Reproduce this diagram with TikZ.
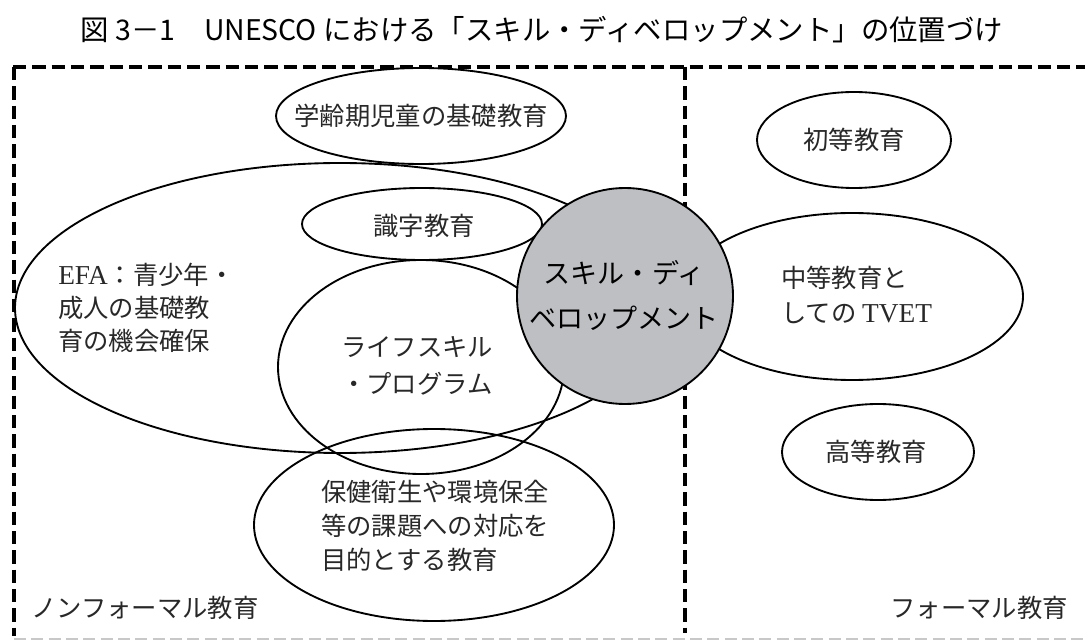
\documentclass[tikz,border=0pt]{standalone}
\usepackage{fontspec}
\newfontfamily\jp{Noto Sans CJK JP}
\newfontfamily\lat{Liberation Serif}
\definecolor{skfill}{RGB}{190,191,195}
\definecolor{botgray}{RGB}{200,200,200}
\definecolor{txt}{RGB}{40,40,40}
\begin{document}
\begin{tikzpicture}[x=0.75pt,y=-0.75pt,
  bord/.style={line width=2.7pt, dash pattern=on 10pt off 4.5pt},
  botbord/.style={line width=1.6pt, botgray, dash pattern=on 9pt off 4pt},
  ell/.style={line width=1.4pt},
  lbl/.style={inner sep=0pt, text=txt, font={\jp\fontsize{19pt}{25pt}\selectfont}},
  lblc/.style={inner sep=0pt, text=black, font={\jp\fontsize{20.3pt}{33.75pt}\selectfont}, align=center},
  ttl/.style={inner sep=0pt, text=black, font={\jp\fontsize{21.3pt}{26pt}\selectfont}}]
\useasboundingbox (0,0) rectangle (1085,641);
% title
\node[ttl] (title) at (542,30) {図 3－1　UNESCO における「スキル・ディベロップメント」の位置づけ};
% borders
\coordinate (tl) at (13,67);
\coordinate (tr) at (1085,67);
\coordinate (bl) at (14,636);
\coordinate (dt) at (685,67);
\coordinate (db) at (685,633);
\coordinate (gl) at (14,639);
\coordinate (gr) at (1085,639);
\draw[botbord] (gl) -- (gr);
\draw[bord] (tl) -- (tr);
\draw[bord] (tl) ++(1,0) -- (bl);
\draw[bord] (dt) -- (db);
% ellipses
\draw[ell] (421,116) ellipse [x radius=145, y radius=48];
\draw[ell] (340,308) ellipse [x radius=325, y radius=145];
\draw[ell] (422,224) ellipse [x radius=120, y radius=36];
\draw[ell] (421,367) ellipse [x radius=143, y radius=107];
\draw[ell] (434,525) ellipse [x radius=180, y radius=96];
\draw[ell] (854,140) ellipse [x radius=97, y radius=48];
\draw[ell] (852,296.5) ellipse [x radius=171, y radius=83.5];
\draw[ell] (878,452) ellipse [x radius=96, y radius=48];
% central circle
\draw[ell, fill=skfill] (625,296) circle [radius=108];
% labels
\node[lbl] (gakurei) at (421,116) {学齢期児童の基礎教育};
\node[lbl] (shiki) at (424,226) {識字教育};
\node[lbl, anchor=west, align=left, font={\jp\fontsize{19pt}{24.75pt}\selectfont}] (efa) at (58,308)
  {{\lat\fontsize{20.5pt}{24.75pt}\selectfont EFA}：青少年・\\成人の基礎教\\育の機会確保};
\node[lbl, anchor=west, align=left, font={\jp\fontsize{19pt}{27.75pt}\selectfont}] (life) at (341,366)
  {ライフスキル\\・プログラム};
\node[lbl, anchor=west, align=left, font={\jp\fontsize{19pt}{25.5pt}\selectfont}] (hoken) at (321,526)
  {保健衛生や環境保全\\等の課題への対応を\\目的とする教育};
\node[lblc] (skill) at (624,295) {スキル・ディ\\ベロップメント};
\node[lbl] (shoto) at (854,140) {初等教育};
\node[lbl, anchor=west, align=left, font={\jp\fontsize{19pt}{26.25pt}\selectfont}] (chuto) at (781,295)
  {中等教育と\\しての {\lat\fontsize{20.5pt}{26.25pt}\selectfont TVET}};
\node[lbl] (koto) at (876,452) {高等教育};
\node[lbl, anchor=west] (nonformal) at (31,608) {ノンフォーマル教育};
\node[lbl, anchor=east] (formal) at (1068,608) {フォーマル教育};
\end{tikzpicture}
\end{document}
